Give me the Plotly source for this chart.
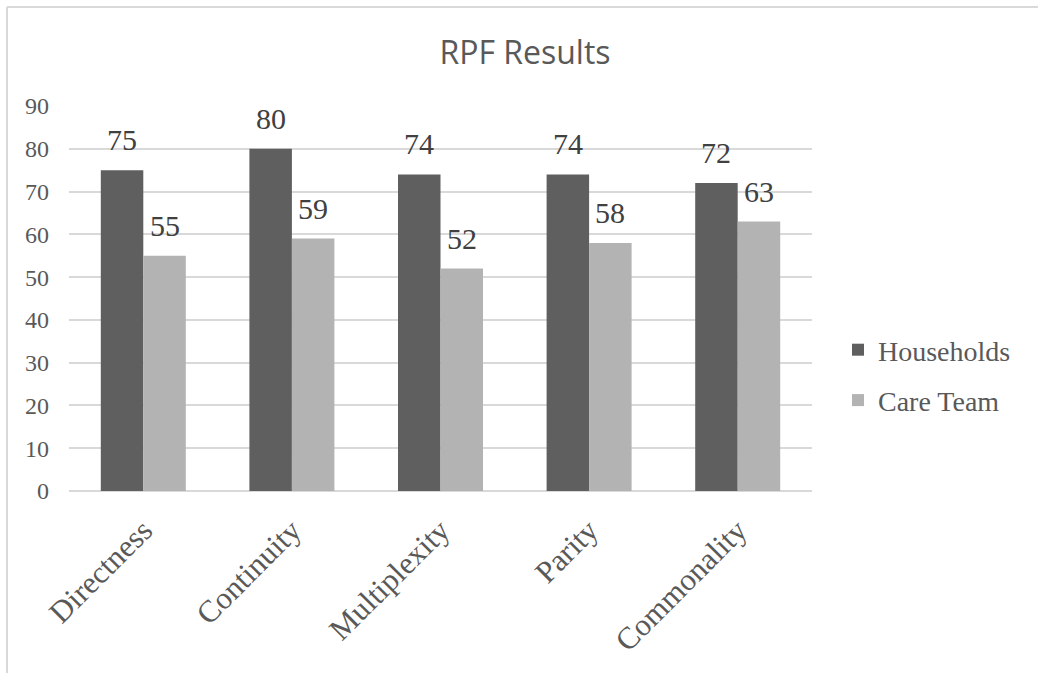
import plotly.graph_objects as go

# Chart data
categories = ["Directness", "Continuity", "Multiplexity", "Parity", "Commonality"]
households = [75, 80, 74, 74, 72]
care_team = [55, 59, 52, 58, 63]
series_names = ["Households", "Care Team"]
y_ticks = [0, 10, 20, 30, 40, 50, 60, 70, 80, 90]

DARK = "#5F5F5F"
LIGHT = "#B3B3B3"
GRID = "#D9D9D9"
SERIF = "Liberation Serif, Times New Roman, serif"

# Layout geometry (pixels)
W, H = 1038, 673
ML, MR, MT, MB = 69, 226, 106, 182
PW = W - ML - MR
PH = H - MT - MB
BAR_HALF = 21.3


def px_x(px):
    return (px - ML) / PW


def px_y(py):
    return (H - MB - py) / PH


fig = go.Figure()
for name, vals, color, grp in [(series_names[0], households, DARK, "a"),
                               (series_names[1], care_team, LIGHT, "b")]:
    fig.add_trace(go.Bar(
        x=categories, y=vals, name=name, marker=dict(color=color, line=dict(width=0)),
        legendgroup=grp, hoverinfo="x+y+name",
    ))

# Value labels above each bar
annotations = []
for vals, shift in [(households, -BAR_HALF), (care_team, BAR_HALF)]:
    for c, v in zip(categories, vals):
        annotations.append(dict(
            x=c, y=v, xref="x", yref="y", text=str(v), showarrow=False,
            xshift=shift, yshift=12, yanchor="bottom", xanchor="center",
            font=dict(family=SERIF, size=30, color="#404040"),
        ))

# Chart frame: top and left edges
frame = [
    dict(type="line", xref="paper", yref="paper", x0=px_x(7), x1=px_x(W + 20),
         y0=px_y(7), y1=px_y(7), line=dict(color=GRID, width=2), layer="below"),
    dict(type="line", xref="paper", yref="paper", x0=px_x(7), x1=px_x(7),
         y0=px_y(7), y1=px_y(H + 20), line=dict(color=GRID, width=2), layer="below"),
]

fig.update_layout(
    width=W, height=H,
    margin=dict(l=ML, r=MR, t=MT, b=MB, pad=0),
    paper_bgcolor="white", plot_bgcolor="white",
    barmode="group", bargap=0.428, bargroupgap=0,
    title=dict(text="RPF Results", x=525 / W, xanchor="center", y=1 - 53 / H, yanchor="middle",
               font=dict(family="Open Sans, Noto Sans, sans-serif", size=32, color="#595959")),
    showlegend=True,
    legend=dict(x=px_x(838), y=px_y(325), xanchor="left", yanchor="top",
                font=dict(family=SERIF, size=28, color="#595959"),
                tracegroupgap=11, itemwidth=30, bgcolor="rgba(0,0,0,0)"),
    annotations=annotations,
    shapes=frame,
    xaxis=dict(showgrid=False, showline=False, zeroline=False, ticks="",
               tickangle=-45, ticklabelstandoff=14,
               tickfont=dict(family=SERIF, size=31, color="#595959")),
    yaxis=dict(range=[0, 90], tickvals=y_ticks, showgrid=True, gridcolor=GRID, gridwidth=1.5,
               zeroline=True, zerolinecolor=GRID, zerolinewidth=1.5, showline=False,
               ticks="", ticklabelstandoff=19,
               tickfont=dict(family=SERIF, size=24, color="#595959")),
)

fig.write_html("out.html")
